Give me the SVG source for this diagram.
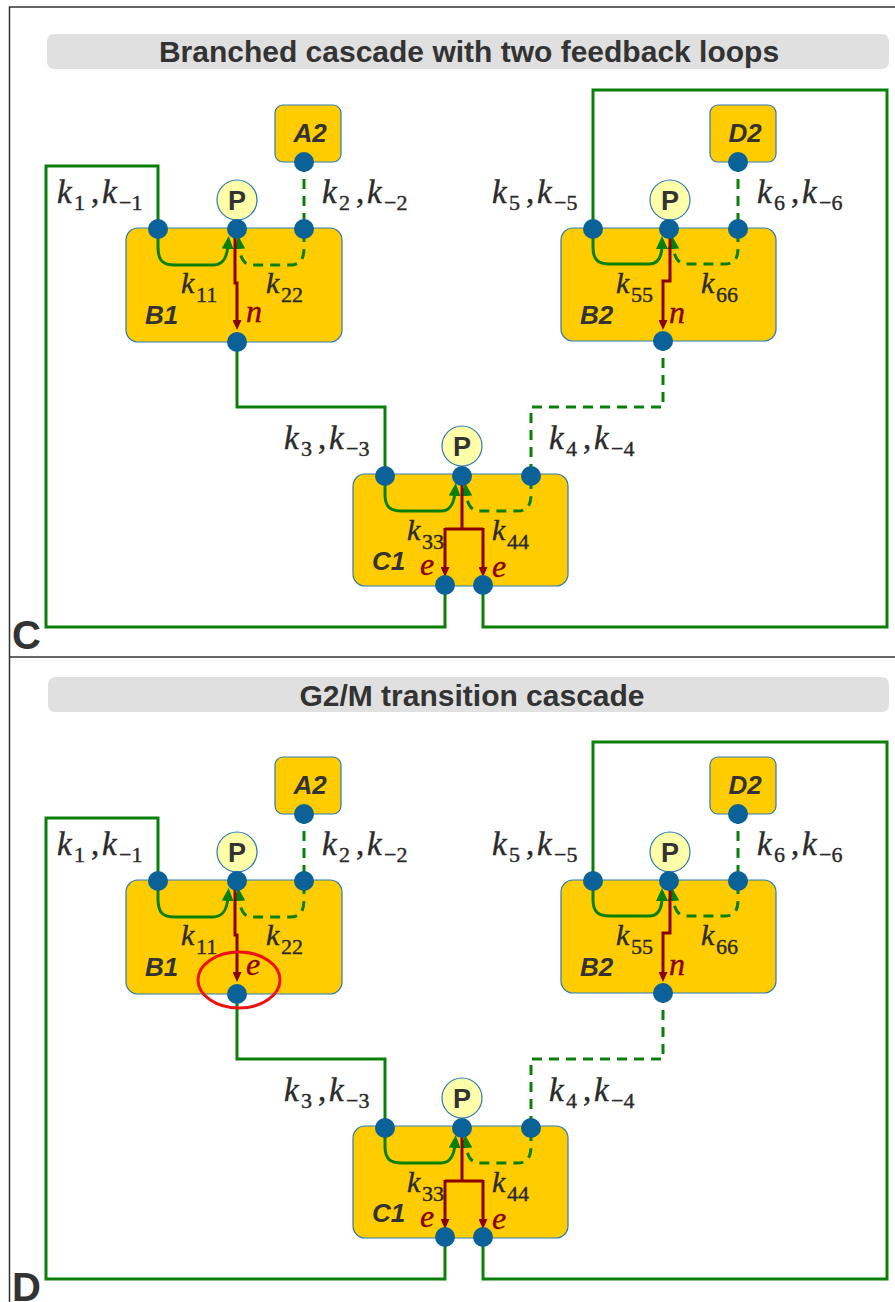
<svg xmlns="http://www.w3.org/2000/svg" width="895" height="1302" viewBox="0 0 895 1302">
<style>
.frame{fill:none;stroke:#333;stroke-width:1.5}
.tbar{fill:#E0E0E0}
.title{font-family:"Liberation Sans",Arial,sans-serif;font-weight:bold;font-size:30px;fill:#333;text-anchor:middle}
.plabel{font-family:"Liberation Sans",Arial,sans-serif;font-weight:bold;font-size:40px;fill:#333}
.box{fill:#FFCC00;stroke:#2C7BB6;stroke-width:1.2}
.dot{fill:#0B6299}
.pc{fill:#FFFFAA;stroke:#2C7BB6;stroke-width:1.2}
.pt{font-family:"Liberation Sans",Arial,sans-serif;font-weight:bold;font-size:27px;fill:#333;text-anchor:middle}
.g{fill:none;stroke:#0A800A;stroke-width:3}
.gd{fill:none;stroke:#0A800A;stroke-width:3;stroke-dasharray:10 7}
.r{fill:none;stroke:#8B0000;stroke-width:3}
.nl{font-family:"Liberation Sans",Arial,sans-serif;font-weight:bold;font-style:italic;font-size:26px;fill:#333}
.kt{font-family:"Liberation Serif","Times New Roman",serif;font-size:33px;fill:#2a2a2a;stroke:#2a2a2a;stroke-width:0.4}
.kn{font-family:"Liberation Serif","Times New Roman",serif;font-size:30px;fill:#2a2a2a;stroke:#2a2a2a;stroke-width:0.4}
.ki{font-style:italic}
.sub{font-size:22px;font-style:normal}
.rt{font-family:"Liberation Serif","Times New Roman",serif;font-style:italic;font-size:32px;fill:#8B0000;stroke:#8B0000;stroke-width:0.4}
.ring{fill:none;stroke:#EE1111;stroke-width:3}
</style>
<defs>
<marker id="ag" viewBox="0 0 13 12" refX="4" refY="6" markerWidth="13" markerHeight="12" markerUnits="userSpaceOnUse" orient="auto"><path d="M0,0 L13,6 L0,12 z" fill="#0A800A"/></marker>
<marker id="ar" viewBox="0 0 10 9" refX="2" refY="4.5" markerWidth="10" markerHeight="9" markerUnits="userSpaceOnUse" orient="auto"><path d="M0,0 L10,4.5 L0,9 z" fill="#8B0000"/></marker>
</defs>

<g id="frame">
<path class="frame" d="M9.5,1302 V7 H895"/>
<path class="frame" d="M9.5,657 H895"/>
</g>

<!-- Panel C -->
<g id="panelC">
<g id="titleC"><rect class="tbar" x="47" y="34" width="842" height="35" rx="7"/><text class="title" x="469" y="62">Branched cascade with two feedback loops</text></g>
<text id="labelC" class="plabel" x="12" y="649">C</text>
<g id="connectorsC">
<polyline class="g" points="158,229 158,166 46,166 46,627 445,627 445,585"/>
<polyline class="g" points="593,229 593,90 887,90 887,627 483,627 483,585"/>
<line class="gd" x1="304" y1="162" x2="304" y2="229"/>
<line class="gd" x1="738" y1="162" x2="738" y2="229"/>
<polyline class="g" points="237,342 237,407 385,407 385,476"/>
<polyline class="gd" points="663,341 663,407 531,407 531,476"/>
<text class="kt"><tspan class="ki" x="57" y="203">k</tspan><tspan class="sub" x="74" y="210">1</tspan><tspan x="91" y="203">,</tspan><tspan class="ki" x="102" y="203">k</tspan><tspan class="sub" x="119" y="210">−1</tspan></text>
<text class="kt"><tspan class="ki" x="322" y="203">k</tspan><tspan class="sub" x="339" y="210">2</tspan><tspan x="356" y="203">,</tspan><tspan class="ki" x="367" y="203">k</tspan><tspan class="sub" x="384" y="210">−2</tspan></text>
<text class="kt"><tspan class="ki" x="492" y="203">k</tspan><tspan class="sub" x="509" y="210">5</tspan><tspan x="526" y="203">,</tspan><tspan class="ki" x="537" y="203">k</tspan><tspan class="sub" x="554" y="210">−5</tspan></text>
<text class="kt"><tspan class="ki" x="757" y="203">k</tspan><tspan class="sub" x="774" y="210">6</tspan><tspan x="791" y="203">,</tspan><tspan class="ki" x="802" y="203">k</tspan><tspan class="sub" x="819" y="210">−6</tspan></text>
<text class="kt"><tspan class="ki" x="284" y="449">k</tspan><tspan class="sub" x="301" y="456">3</tspan><tspan x="318" y="449">,</tspan><tspan class="ki" x="329" y="449">k</tspan><tspan class="sub" x="346" y="456">−3</tspan></text>
<text class="kt"><tspan class="ki" x="549" y="449">k</tspan><tspan class="sub" x="566" y="456">4</tspan><tspan x="583" y="449">,</tspan><tspan class="ki" x="594" y="449">k</tspan><tspan class="sub" x="611" y="456">−4</tspan></text>
</g>
<g id="A2">
<rect class="box" x="275" y="105" width="66" height="57" rx="8"/>
<text class="nl" x="310" y="142" text-anchor="middle">A2</text>
<circle class="dot" cx="304" cy="162" r="10"/>
</g>
<g id="D2">
<rect class="box" x="710" y="105" width="66" height="57" rx="8"/>
<text class="nl" x="745" y="142" text-anchor="middle">D2</text>
<circle class="dot" cx="738" cy="162" r="10"/>
</g>
<g id="B1">
<rect class="box" x="126" y="228" width="216" height="114" rx="12"/>
<path class="g" marker-end="url(#ag)" d="M158,232 V247 C158,261 163,265 175,265 H213 C223,265 227,258 228,245"/>
<path class="gd" marker-end="url(#ag)" d="M304,232 V248 C304,259 300,265 290,265 H252 C244,265 240,258 239,245"/>
<path class="r" marker-end="url(#ar)" d="M235,231 V283 H237 V322"/>
<circle class="pc" cx="237" cy="200" r="20"/>
<text class="pt" x="237" y="210">P</text>
<circle class="dot" cx="158" cy="229" r="10"/>
<circle class="dot" cx="237" cy="229" r="10"/>
<circle class="dot" cx="304" cy="229" r="10"/>
<circle class="dot" cx="237" cy="342" r="10"/>
<text class="nl" x="145" y="324">B1</text>
<text class="kn"><tspan class="ki" x="181" y="293">k</tspan><tspan class="sub" x="196" y="302">11</tspan></text>
<text class="kn"><tspan class="ki" x="266" y="293">k</tspan><tspan class="sub" x="281" y="302">22</tspan></text>
<text class="rt" x="246" y="322">n</text>
</g>
<g id="B2">
<rect class="box" x="561" y="228" width="215" height="113" rx="12"/>
<path class="g" marker-end="url(#ag)" d="M593,232 V247 C593,260 598,264 610,264 H649 C658,264 662,257 662,245"/>
<path class="gd" marker-end="url(#ag)" d="M738,232 V248 C738,259 734,264 724,264 H686 C678,264 674,257 673,245"/>
<path class="r" marker-end="url(#ar)" d="M670,231 V281 H663 V322"/>
<circle class="pc" cx="670" cy="200" r="20"/>
<text class="pt" x="670" y="210">P</text>
<circle class="dot" cx="593" cy="229" r="10"/>
<circle class="dot" cx="669" cy="229" r="10"/>
<circle class="dot" cx="738" cy="229" r="10"/>
<circle class="dot" cx="663" cy="341" r="10"/>
<text class="nl" x="580" y="324">B2</text>
<text class="kn"><tspan class="ki" x="616" y="293">k</tspan><tspan class="sub" x="631" y="302">55</tspan></text>
<text class="kn"><tspan class="ki" x="701" y="293">k</tspan><tspan class="sub" x="716" y="302">66</tspan></text>
<text class="rt" x="669" y="323">n</text>
</g>
<g id="C1">
<rect class="box" x="353" y="474" width="215" height="112" rx="12"/>
<path class="g" marker-end="url(#ag)" d="M385,479 V494 C385,507 390,511 402,511 H441 C450,511 454,504 455,492"/>
<path class="gd" marker-end="url(#ag)" d="M531,479 V494 C531,506 527,511 517,511 H479 C471,511 467,504 466,492"/>
<path class="r" d="M462,478 V529 M445,529 H483"/>
<path class="r" marker-end="url(#ar)" d="M445,528 V569"/>
<path class="r" marker-end="url(#ar)" d="M483,528 V569"/>
<circle class="pc" cx="462" cy="446" r="20"/>
<text class="pt" x="462" y="456">P</text>
<circle class="dot" cx="385" cy="476" r="10"/>
<circle class="dot" cx="462" cy="476" r="10"/>
<circle class="dot" cx="531" cy="476" r="10"/>
<circle class="dot" cx="445" cy="585" r="10"/>
<circle class="dot" cx="483" cy="585" r="10"/>
<text class="nl" x="372" y="570">C1</text>
<text class="kn"><tspan class="ki" x="407" y="540">k</tspan><tspan class="sub" x="422" y="549">33</tspan></text>
<text class="kn"><tspan class="ki" x="492" y="540">k</tspan><tspan class="sub" x="507" y="549">44</tspan></text>
<text class="rt" x="420" y="575">e</text>
<text class="rt" x="492" y="577">e</text>
</g>
</g>

<!-- Panel D -->
<g id="panelD">
<g id="titleD"><rect class="tbar" x="48" y="677" width="841" height="35" rx="7"/><text class="title" x="472" y="706">G2/M transition cascade</text></g>
<text id="labelD" class="plabel" x="12" y="1301">D</text>
<g transform="translate(0,652)">
<g id="connectorsD">
<polyline class="g" points="158,229 158,166 46,166 46,627 445,627 445,585"/>
<polyline class="g" points="593,229 593,90 887,90 887,627 483,627 483,585"/>
<line class="gd" x1="304" y1="162" x2="304" y2="229"/>
<line class="gd" x1="738" y1="162" x2="738" y2="229"/>
<polyline class="g" points="237,342 237,407 385,407 385,476"/>
<polyline class="gd" points="663,341 663,407 531,407 531,476"/>
<text class="kt"><tspan class="ki" x="57" y="203">k</tspan><tspan class="sub" x="74" y="210">1</tspan><tspan x="91" y="203">,</tspan><tspan class="ki" x="102" y="203">k</tspan><tspan class="sub" x="119" y="210">−1</tspan></text>
<text class="kt"><tspan class="ki" x="322" y="203">k</tspan><tspan class="sub" x="339" y="210">2</tspan><tspan x="356" y="203">,</tspan><tspan class="ki" x="367" y="203">k</tspan><tspan class="sub" x="384" y="210">−2</tspan></text>
<text class="kt"><tspan class="ki" x="492" y="203">k</tspan><tspan class="sub" x="509" y="210">5</tspan><tspan x="526" y="203">,</tspan><tspan class="ki" x="537" y="203">k</tspan><tspan class="sub" x="554" y="210">−5</tspan></text>
<text class="kt"><tspan class="ki" x="757" y="203">k</tspan><tspan class="sub" x="774" y="210">6</tspan><tspan x="791" y="203">,</tspan><tspan class="ki" x="802" y="203">k</tspan><tspan class="sub" x="819" y="210">−6</tspan></text>
<text class="kt"><tspan class="ki" x="284" y="449">k</tspan><tspan class="sub" x="301" y="456">3</tspan><tspan x="318" y="449">,</tspan><tspan class="ki" x="329" y="449">k</tspan><tspan class="sub" x="346" y="456">−3</tspan></text>
<text class="kt"><tspan class="ki" x="549" y="449">k</tspan><tspan class="sub" x="566" y="456">4</tspan><tspan x="583" y="449">,</tspan><tspan class="ki" x="594" y="449">k</tspan><tspan class="sub" x="611" y="456">−4</tspan></text>
</g>
<g id="A2_D">
<rect class="box" x="275" y="105" width="66" height="57" rx="8"/>
<text class="nl" x="310" y="142" text-anchor="middle">A2</text>
<circle class="dot" cx="304" cy="162" r="10"/>
</g>
<g id="D2_D">
<rect class="box" x="710" y="105" width="66" height="57" rx="8"/>
<text class="nl" x="745" y="142" text-anchor="middle">D2</text>
<circle class="dot" cx="738" cy="162" r="10"/>
</g>
<g id="B1_D">
<rect class="box" x="126" y="228" width="216" height="114" rx="12"/>
<path class="g" marker-end="url(#ag)" d="M158,232 V247 C158,261 163,265 175,265 H213 C223,265 227,258 228,245"/>
<path class="gd" marker-end="url(#ag)" d="M304,232 V248 C304,259 300,265 290,265 H252 C244,265 240,258 239,245"/>
<path class="r" marker-end="url(#ar)" d="M235,231 V283 H237 V322"/>
<circle class="pc" cx="237" cy="200" r="20"/>
<text class="pt" x="237" y="210">P</text>
<circle class="dot" cx="158" cy="229" r="10"/>
<circle class="dot" cx="237" cy="229" r="10"/>
<circle class="dot" cx="304" cy="229" r="10"/>
<circle class="dot" cx="237" cy="342" r="10"/>
<text class="nl" x="145" y="324">B1</text>
<text class="kn"><tspan class="ki" x="181" y="293">k</tspan><tspan class="sub" x="196" y="302">11</tspan></text>
<text class="kn"><tspan class="ki" x="266" y="293">k</tspan><tspan class="sub" x="281" y="302">22</tspan></text>
<text class="rt" x="246" y="323">e</text>
<ellipse class="ring" cx="239" cy="328" rx="41" ry="28"/>
</g>
<g id="B2_D">
<rect class="box" x="561" y="228" width="215" height="113" rx="12"/>
<path class="g" marker-end="url(#ag)" d="M593,232 V247 C593,260 598,264 610,264 H649 C658,264 662,257 662,245"/>
<path class="gd" marker-end="url(#ag)" d="M738,232 V248 C738,259 734,264 724,264 H686 C678,264 674,257 673,245"/>
<path class="r" marker-end="url(#ar)" d="M670,231 V281 H663 V322"/>
<circle class="pc" cx="670" cy="200" r="20"/>
<text class="pt" x="670" y="210">P</text>
<circle class="dot" cx="593" cy="229" r="10"/>
<circle class="dot" cx="669" cy="229" r="10"/>
<circle class="dot" cx="738" cy="229" r="10"/>
<circle class="dot" cx="663" cy="341" r="10"/>
<text class="nl" x="580" y="324">B2</text>
<text class="kn"><tspan class="ki" x="616" y="293">k</tspan><tspan class="sub" x="631" y="302">55</tspan></text>
<text class="kn"><tspan class="ki" x="701" y="293">k</tspan><tspan class="sub" x="716" y="302">66</tspan></text>
<text class="rt" x="669" y="323">n</text>
</g>
<g id="C1_D">
<rect class="box" x="353" y="474" width="215" height="112" rx="12"/>
<path class="g" marker-end="url(#ag)" d="M385,479 V494 C385,507 390,511 402,511 H441 C450,511 454,504 455,492"/>
<path class="gd" marker-end="url(#ag)" d="M531,479 V494 C531,506 527,511 517,511 H479 C471,511 467,504 466,492"/>
<path class="r" d="M462,478 V529 M445,529 H483"/>
<path class="r" marker-end="url(#ar)" d="M445,528 V569"/>
<path class="r" marker-end="url(#ar)" d="M483,528 V569"/>
<circle class="pc" cx="462" cy="446" r="20"/>
<text class="pt" x="462" y="456">P</text>
<circle class="dot" cx="385" cy="476" r="10"/>
<circle class="dot" cx="462" cy="476" r="10"/>
<circle class="dot" cx="531" cy="476" r="10"/>
<circle class="dot" cx="445" cy="585" r="10"/>
<circle class="dot" cx="483" cy="585" r="10"/>
<text class="nl" x="372" y="570">C1</text>
<text class="kn"><tspan class="ki" x="407" y="540">k</tspan><tspan class="sub" x="422" y="549">33</tspan></text>
<text class="kn"><tspan class="ki" x="492" y="540">k</tspan><tspan class="sub" x="507" y="549">44</tspan></text>
<text class="rt" x="420" y="575">e</text>
<text class="rt" x="492" y="577">e</text>
</g>
</g>
</g>
</svg>
